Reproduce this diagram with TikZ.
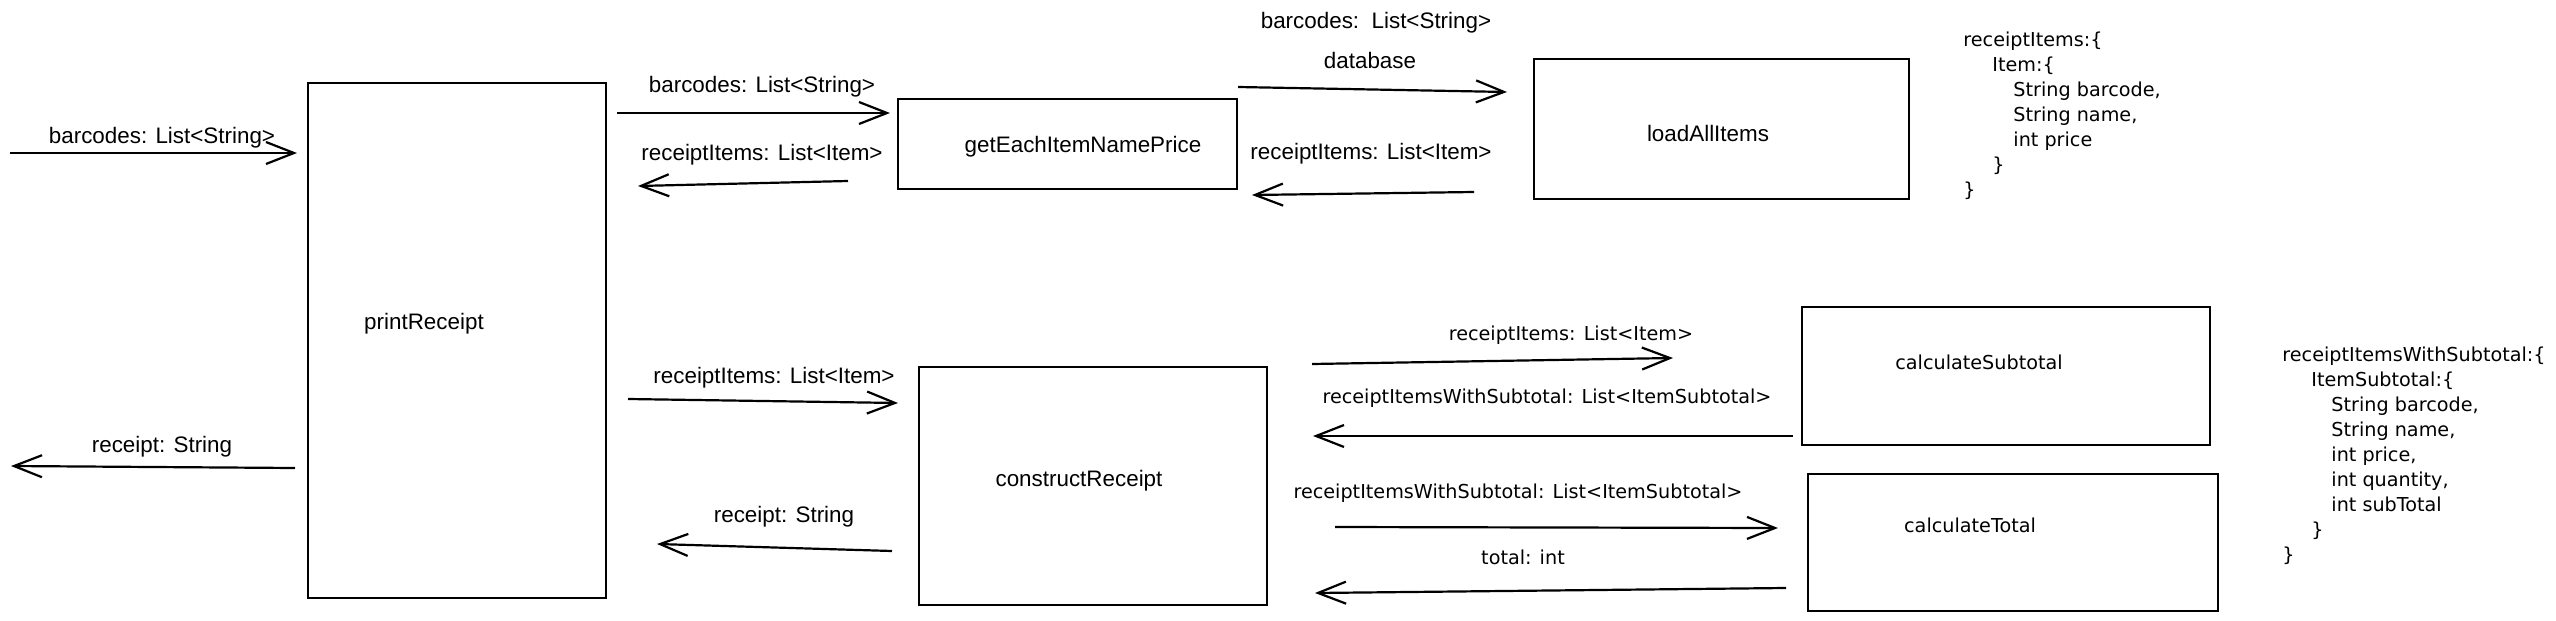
\documentclass[tikz,border=0pt]{standalone}
\usepackage{fontspec}
\setmainfont{Liberation Sans}
\newfontfamily\codefont{DejaVu Sans}
\usetikzlibrary{arrows.meta}

\begin{document}
\begin{tikzpicture}[x=0.5pt, y=-0.5pt,
	box/.style={draw, line width=1pt, inner sep=0pt},
	flow/.style={line width=1.1pt, -{Straight Barb[length=14pt, width=11pt]}},
	hand/.style={font=\fontsize{11.2}{13}\selectfont, inner sep=0pt},
	code/.style={font=\codefont\fontsize{9.6}{12.5}\selectfont, inner sep=0pt}]
		\useasboundingbox (0,0) rectangle (2556,621);
		
		\node[box, minimum width=149pt, minimum height=257.5pt] (pr) at (457,340.5) {};
		\node[hand] (prtext) at (424,324) {printReceipt};
		
		\node[box, minimum width=169.5pt, minimum height=45pt] (ge) at (1067.5,144) {};
		\node[hand] (getext) at (1083,147) {getEachItemNamePrice};
		
		\node[box, minimum width=187.5pt, minimum height=70pt] (la) at (1721.5,129) {};
		\node[hand] (latext) at (1708,133) {loadAllItems};
		
		\node[box, minimum width=174pt, minimum height=119pt] (cr) at (1093,486) {};
		\node[hand] (crtext) at (1079,481) {constructReceipt};
		
		\node[box, minimum width=204pt, minimum height=69pt] (cs) at (2006,376) {};
		\node[code] (cstext) at (1979,362) {calculateSubtotal};
		
		\node[box, minimum width=205pt, minimum height=68.5pt] (ct) at (2013,542.5) {};
		\node[code] (cttext) at (1970,525) {calculateTotal};
		
		\coordinate (inS) at (10,153);
		\coordinate (inE) at (297,153);
		\draw[flow] (inS) -- (inE);
		\node[hand] (inlabel) at (162,138) {barcodes: List<String>};
		
		\coordinate (outS) at (295,468);
		\coordinate (outE) at (11,466);
		\draw[flow] (outS) -- (outE);
		\node[hand] (outlabel) at (162,447) {receipt: String};
		
		\coordinate (prgeS) at (617,113);
		\coordinate (prgeE) at (890,113);
		\draw[flow] (prgeS) -- (prgeE);
		\node[hand] (prgelabel) at (762,87) {barcodes: List<String>};
		
		\coordinate (geprS) at (848,181);
		\coordinate (geprE) at (638,186);
		\draw[flow] (geprS) -- (geprE);
		\node[hand] (geprlabel) at (762,155) {receiptItems: List<Item>};
		
		\coordinate (gelaS) at (1238,87);
		\coordinate (gelaE) at (1507,92);
		\draw[flow] (gelaS) -- (gelaE);
		\node[hand] (gelalabel) at (1376,23) {barcodes:\ \ List<String>};
		\node[hand] (dblabel) at (1370,60) {database};
		
		\coordinate (lageS) at (1474,192);
		\coordinate (lageE) at (1252,195);
		\draw[flow] (lageS) -- (lageE);
		\node[hand] (lagelabel) at (1371,154) {receiptItems: List<Item>};
		
		\coordinate (prcrS) at (628,399);
		\coordinate (prcrE) at (898,403);
		\draw[flow] (prcrS) -- (prcrE);
		\node[hand] (prcrlabel) at (774,378) {receiptItems: List<Item>};
		
		\coordinate (crprS) at (892,551);
		\coordinate (crprE) at (657,544);
		\draw[flow] (crprS) -- (crprE);
		\node[hand] (crprlabel) at (784,517) {receipt: String};
		
		\coordinate (crcsS) at (1312,364);
		\coordinate (crcsE) at (1673,358);
		\draw[flow] (crcsS) -- (crcsE);
		\node[code] (crcslabel) at (1571,335) {receiptItems: List<Item>};
		
		\coordinate (cscrS) at (1793,436);
		\coordinate (cscrE) at (1313,436);
		\draw[flow] (cscrS) -- (cscrE);
		\node[code] (cscrlabel) at (1547,398) {receiptItemsWithSubtotal: List<ItemSubtotal>};
		
		\coordinate (crctS) at (1335,527);
		\coordinate (crctE) at (1778,528);
		\draw[flow] (crctS) -- (crctE);
		\node[code] (crctlabel) at (1518,493) {receiptItemsWithSubtotal: List<ItemSubtotal>};
		
		\coordinate (ctcrS) at (1786,588);
		\coordinate (ctcrE) at (1315,593);
		\draw[flow] (ctcrS) -- (ctcrE);
		\node[code] (ctcrlabel) at (1523,557) {total: int};
		
		\node[code, anchor=north west, align=left] (items) at (1963,32) {receiptItems:\{\\
			\hspace*{14.5pt}Item:\{\\
			\hspace*{25pt}String barcode,\\
			\hspace*{25pt}String name,\\
			\hspace*{25pt}int price\\
			\hspace*{14.5pt}\}\\
			\}};
		
		\node[code, anchor=north west, align=left] (subitems) at (2282,347) {receiptItemsWithSubtotal:\{\\
			\hspace*{14.5pt}ItemSubtotal:\{\\
			\hspace*{24.5pt}String barcode,\\
			\hspace*{24.5pt}String name,\\
			\hspace*{24.5pt}int price,\\
			\hspace*{24.5pt}int quantity,\\
			\hspace*{24.5pt}int subTotal\\
			\hspace*{14.5pt}\}\\
			\}};
\end{tikzpicture}
\end{document}
